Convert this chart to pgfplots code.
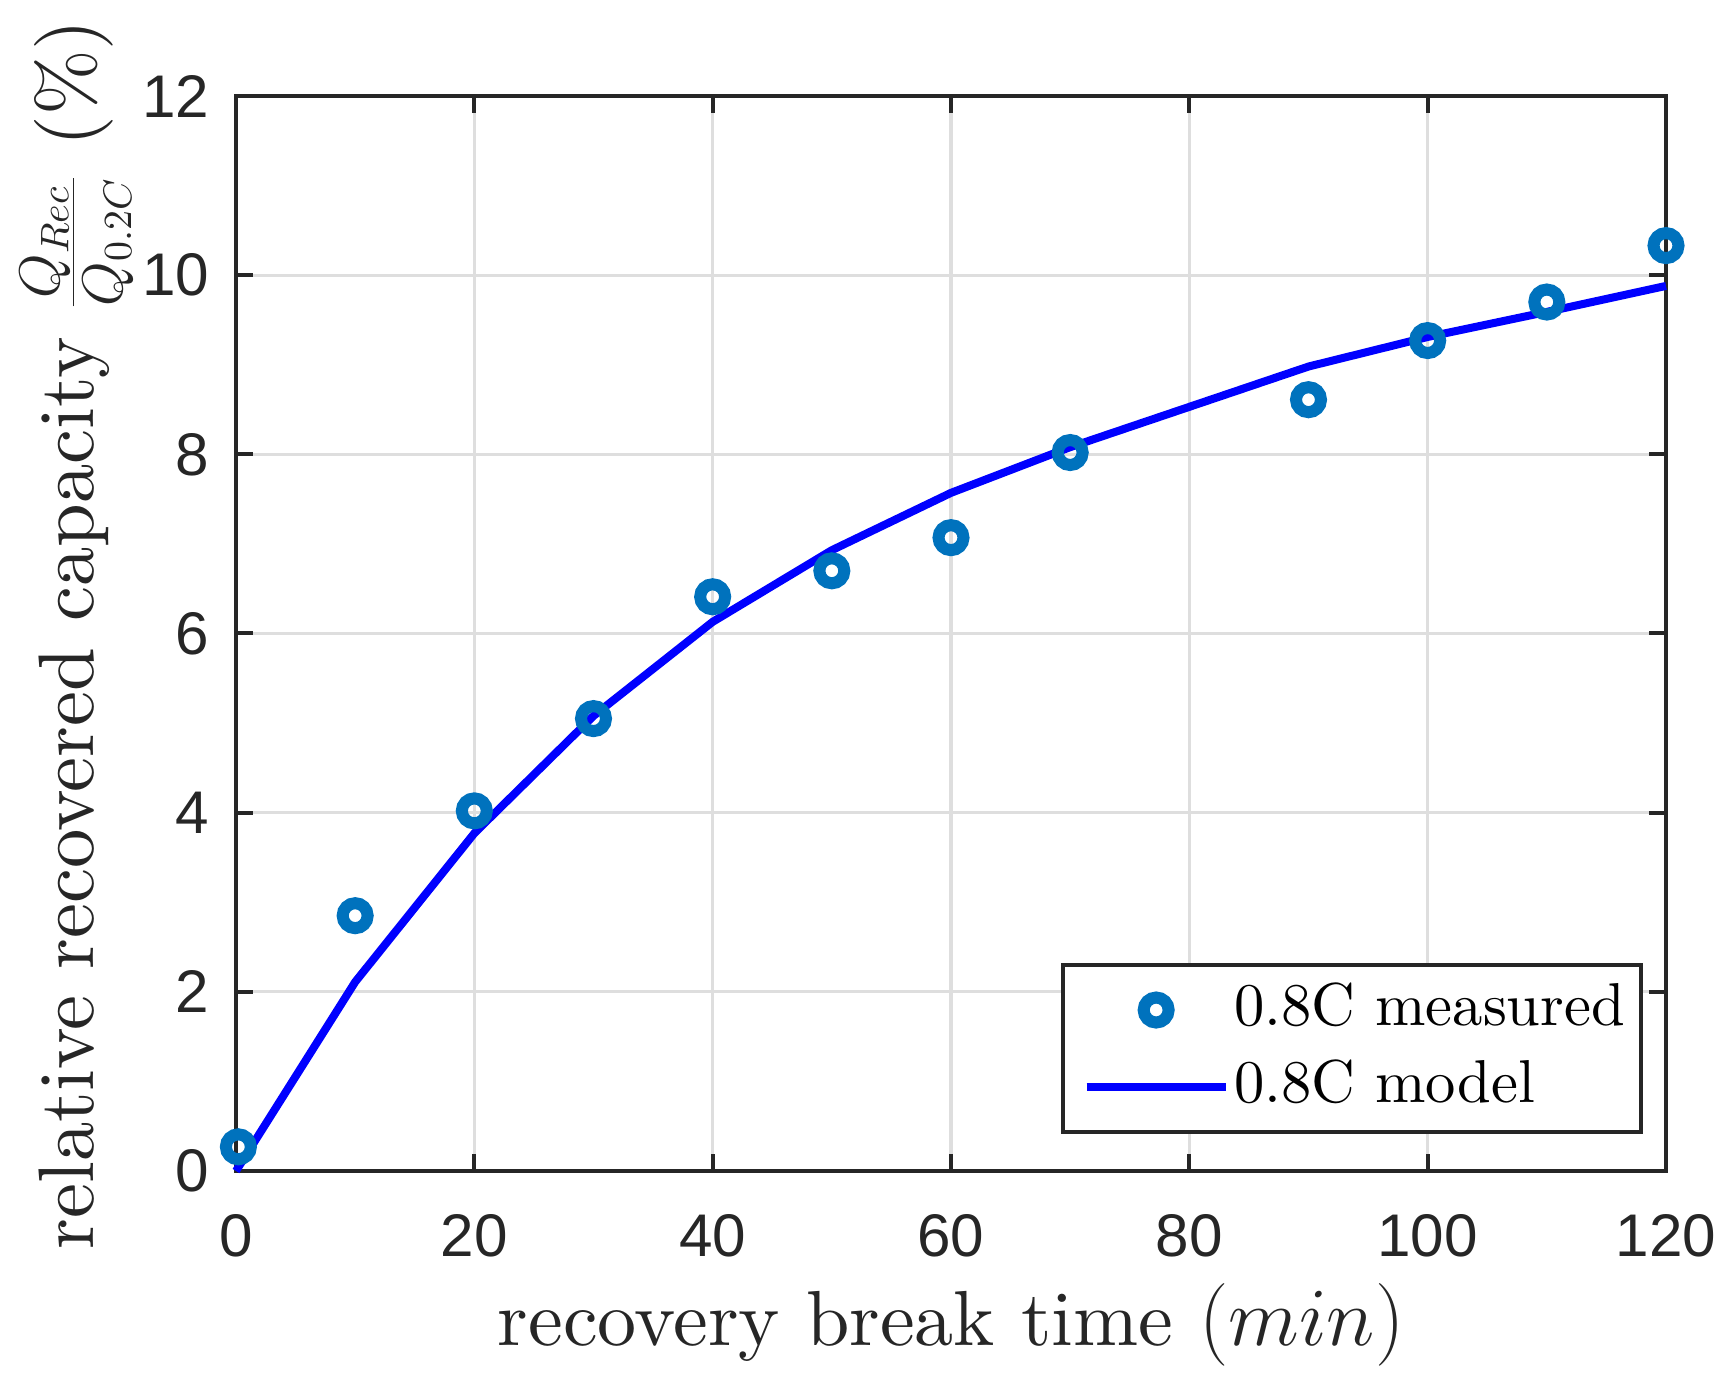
\documentclass[border=0pt]{standalone}
\usepackage{fontspec}
\setmainfont{lmroman10-regular}[Extension=.otf, ItalicFont=lmroman10-italic, BoldFont=lmroman10-bold]
\newfontfamily\arialfont{Liberation Sans}
\usepackage{pgfplots}
\pgfplotsset{compat=1.18}
\definecolor{axiscol}{RGB}{38,38,38}
\definecolor{gridcol}{RGB}{222,222,222}
\definecolor{mblue}{RGB}{0,114,189}
\definecolor{lblue}{RGB}{0,0,255}
\pgfplotsset{
  legmark/.style={legend image code/.code={\path (-0.45bp,0bp); \draw[mark repeat=2,mark phase=2,##1] plot coordinates {(0bp,0bp) (17.4bp,0bp) (34.8bp,0bp)};}},
  legline/.style={legend image code/.code={\path (-0.45bp,0bp); \draw[##1] (0bp,0bp) -- (34.8bp,0bp);}},
}
\pgfplotstableread{
x y
0.2 0.27
10 2.85
20 4.02
30 5.05
40 6.41
50 6.70
60 7.07
70 8.02
90 8.61
100 9.27
110 9.70
120 10.33
}\measured
\pgfplotstableread{
x y
0 0
10 2.11
20 3.77
30 5.08
40 6.13
50 6.93
60 7.57
70 8.08
80 8.53
90 8.98
100 9.31
110 9.59
120 9.88
}\model
\begin{document}
\begin{tikzpicture}
\useasboundingbox (-59bp,-52.75bp) rectangle (373.75bp,292.75bp);
\begin{axis}[
  at={(0,0)}, anchor=south west,
  scale only axis, width=357.5bp, height=268.75bp,
  xmin=0, xmax=120, ymin=0, ymax=12,
  xtick={0,20,...,120}, ytick={0,2,...,12},
  clip=false,
  grid=major, major grid style={color=gridcol, line width=0.83bp},
  axis line style={line width=1bp, color=axiscol},
  tick align=inside, major tick length=4.25bp,
  every tick/.style={line width=1bp, color=axiscol},
  /pgf/number format/assume math mode=true,
  tick label style={font=\fontsize{15.1}{18}\selectfont\arialfont, text=axiscol, inner sep=0pt},
  xticklabel style={yshift=-10.7bp},
  yticklabel style={xshift=-6.5bp},
  xlabel={recovery break time $(min)$},
  ylabel={relative recovered capacity $\frac{Q_{Rec}}{Q_{0.2C}}$ (\%)},
  xlabel style={at={(axis description cs:0.5,0)}, anchor=base, yshift=-43.5bp, font=\fontsize{19.6}{23}\selectfont, text=axiscol},
  ylabel style={at={(axis description cs:-0.0993,0.499)}, anchor=base, font=\fontsize{19.75}{23}\selectfont, text=axiscol},
  legend style={
    at={(axis description cs:0.9839,0.0344)}, anchor=south east,
    draw=axiscol, line width=1bp, fill=white, text=black,
    inner xsep=4bp, inner ysep=4bp,
    font=\fontsize{15.2}{18}\selectfont,
    row sep=4.75bp, column sep=1.1bp,
    nodes={inner sep=0pt, text height=11bp, text depth=3.5bp},
  },
  legend cell align=left,
]
\addplot[only marks, mark=o, color=mblue, line width=3bp, mark size=3.125bp, legmark]
  table[x=x,y=y] {\measured};
\addlegendentry{0.8C measured}
\addplot[color=lblue, line width=2bp, no marks, legline]
  table[x=x,y=y] {\model};
\addlegendentry{0.8C model}
\end{axis}
\end{tikzpicture}
\end{document}
